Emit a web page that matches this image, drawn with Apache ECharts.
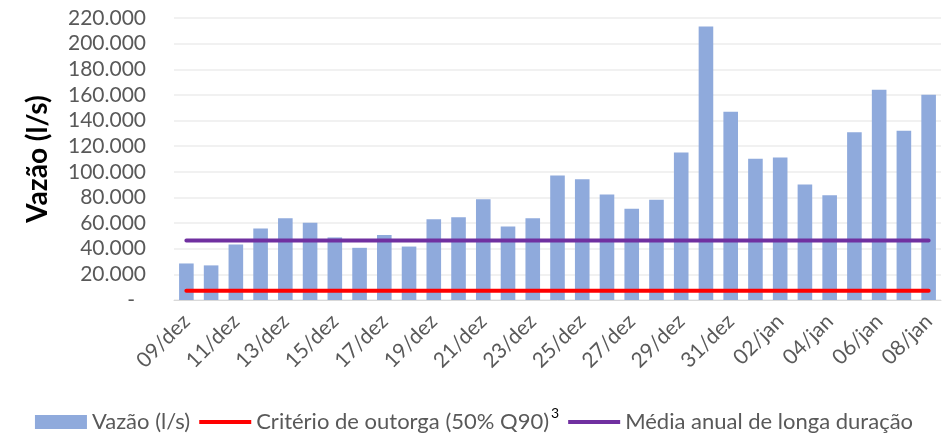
<!DOCTYPE html>
<html>
<head>
<meta charset="utf-8">
<script src="https://cdn.jsdelivr.net/npm/echarts@6/dist/echarts.min.js"></script>
<style>
	html, body { margin: 0; padding: 0; background: #fff; }
	#chart { width: 948px; height: 438px; }
</style>
</head>
<body>
<div id="chart"></div>
<script>
let dias = [
	"09/dez", "10/dez", "11/dez", "12/dez", "13/dez", "14/dez", "15/dez", "16/dez",
	"17/dez", "18/dez", "19/dez", "20/dez", "21/dez", "22/dez", "23/dez", "24/dez",
	"25/dez", "26/dez", "27/dez", "28/dez", "29/dez", "30/dez", "31/dez", "01/jan",
	"02/jan", "03/jan", "04/jan", "05/jan", "06/jan", "07/jan", "08/jan",
];
let vazao = [
	28500, 27000, 43300, 55800, 63800, 60200, 48800, 40700, 50800, 41700, 63000,
	64600, 78600, 57300, 63800, 97100, 94200, 82300, 71100, 78200, 115100, 213400,
	146800, 110100, 111200, 90100, 81800, 130900, 164000, 132000, 160100,
];
let criterio = 7200;
let mediaAnual = 46400;

let nomeVazao = "Vazão (l/s)";
let nomeCriterio = "Critério de outorga (50% Q90)";
let nomeMedia = "Média anual de longa duração";

let fonte = "Lato, 'Noto Sans', sans-serif";
let cinza = "#595959";
// linha fina centrada na caixa 52x14 da legenda
let iconeLinha = "path://M0,0 M52,14 M0,5 L52,5 L52,9 L0,9 Z";

let echarts = window.echarts;
let myChart = echarts.init(document.getElementById("chart"));

let fmtNumero = function (v) {
	if (v === 0) {
		return "{z|-}";
	}
	return v.toString().replace(/\B(?=(\d{3})+(?!\d))/g, ".");
};

let option = {
	animation: false,
	textStyle: { fontFamily: fonte },
	grid: {
		left: 174,
		right: 7,
		top: 18,
		bottom: 138,
		containLabel: false,
	},
	legend: {
		left: "center",
		bottom: 0,
		itemWidth: 52,
		itemHeight: 14,
		itemGap: 9,
		textStyle: {
			fontFamily: fonte,
			fontSize: 22,
			color: cinza,
			rich: {
				sup: {
					fontFamily: fonte,
					fontSize: 14,
					color: "#000",
					padding: [0, 0, 18, 2],
				},
			},
		},
		formatter: function (name) {
			if (name === nomeCriterio) {
				return name + "{sup|3}";
			}
			return name;
		},
		data: [
			{ name: nomeVazao, icon: "rect" },
			{ name: nomeCriterio, icon: iconeLinha },
			{ name: nomeMedia, icon: iconeLinha },
		],
	},
	xAxis: [
		{
			type: "category",
			data: dias,
			axisLine: { lineStyle: { color: "#d9d9d9", width: 1 } },
			axisTick: {
				interval: 1,
				length: 7,
				lineStyle: { color: "#d9d9d9" },
			},
			axisLabel: {
				interval: 1,
				rotate: 45,
				margin: 18,
				fontFamily: fonte,
				fontSize: 21,
				color: cinza,
			},
		},
	],
	yAxis: [
		{
			type: "value",
			min: 0,
			max: 220000,
			interval: 20000,
			name: "Vazão (l/s)",
			nameLocation: "middle",
			nameGap: 122,
			nameTextStyle: {
				fontFamily: fonte,
				fontSize: 28,
				fontWeight: "bold",
				color: "#000",
			},
			axisLine: { show: false },
			axisTick: { show: false },
			axisLabel: {
				margin: 28,
				fontFamily: fonte,
				fontSize: 21,
				color: cinza,
				formatter: fmtNumero,
				rich: {
					z: {
						fontFamily: fonte,
						fontSize: 21,
						color: cinza,
						padding: [0, 11, 0, 0],
					},
				},
			},
			splitLine: { lineStyle: { color: "#ececec", width: 1.5 } },
		},
	],
	series: [
		{
			name: nomeVazao,
			type: "bar",
			barWidth: "59%",
			itemStyle: { color: "#8FAADC" },
			data: vazao,
		},
		{
			name: nomeCriterio,
			type: "line",
			symbol: "none",
			lineStyle: { color: "#FF0000", width: 4, cap: "round" },
			itemStyle: { color: "#FF0000" },
			data: dias.map(() => criterio),
		},
		{
			name: nomeMedia,
			type: "line",
			symbol: "none",
			lineStyle: { color: "#7030A0", width: 4, cap: "round" },
			itemStyle: { color: "#7030A0" },
			data: dias.map(() => mediaAnual),
		},
	],
};

myChart.setOption(option);
</script>
</body>
</html>
